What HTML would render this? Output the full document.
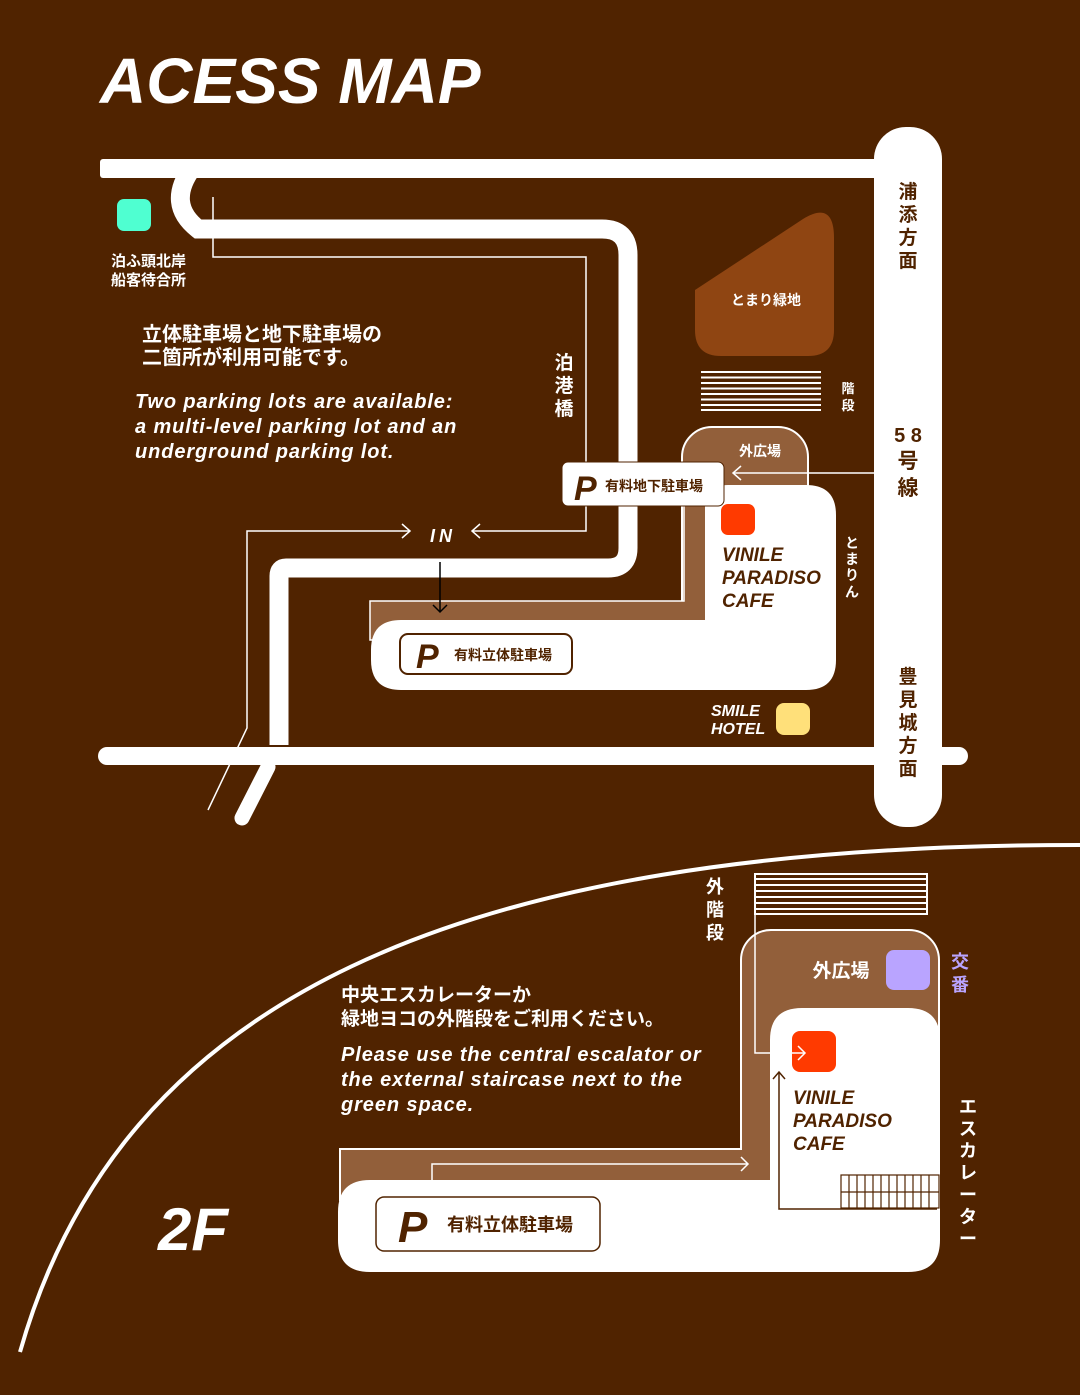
<!DOCTYPE html>
<html><head><meta charset="utf-8"><style>
html,body{margin:0;padding:0;background:#502300;}
svg{display:block}
text{font-family:"Liberation Sans","Noto Sans CJK JP",sans-serif;}
</style></head><body>
<svg width="1080" height="1395" viewBox="0 0 1080 1395" xmlns="http://www.w3.org/2000/svg">
<rect width="1080" height="1395" fill="#502300"/>
<text x="100" y="103" font-size="64" font-weight="bold" font-style="italic" fill="#fff">ACESS MAP</text>

<!-- roads -->
<rect x="100" y="159" width="800" height="19" rx="3" fill="#fff"/>
<rect x="98" y="747" width="870" height="18" rx="9" fill="#fff"/>
<rect x="874" y="127" width="68" height="700" rx="32" fill="#fff"/>
<path d="M192 168 Q166 204 198 229 L602 229 Q628 229 628 255 L628 548 Q628 568 608 568 L286 568 Q279 568 279 576 L279 745" stroke="#fff" stroke-width="19" fill="none"/>
<line x1="268" y1="767" x2="242" y2="818" stroke="#fff" stroke-width="15" stroke-linecap="round"/>

<!-- thin lines -->
<polyline points="213,197 213,257 586,257 586,531 472,531" stroke="#fff" stroke-width="1.5" fill="none"/>
<polyline points="480,524 472,531 480,538" stroke="#fff" stroke-width="1.5" fill="none"/>
<polyline points="208,810 247,728 247,531 410,531" stroke="#fff" stroke-width="1.5" fill="none"/>
<polyline points="402,524 410,531 402,538" stroke="#fff" stroke-width="1.5" fill="none"/>
<text x="430" y="542" font-size="18" font-weight="bold" font-style="italic" fill="#fff" letter-spacing="4">IN</text>

<!-- left labels -->
<rect x="117" y="199" width="34" height="32" rx="7" fill="#4fffd1"/>
<text x="111" y="266" font-size="15" font-weight="bold" fill="#fff">泊ふ頭北岸</text>
<text x="111" y="285" font-size="15" font-weight="bold" fill="#fff">船客待合所</text>
<text x="142" y="341" font-size="20" font-weight="bold" fill="#fff">立体駐車場と地下駐車場の</text>
<text x="142" y="364" font-size="20" font-weight="bold" fill="#fff">二箇所が利用可能です。</text>
<g font-size="20" font-weight="bold" font-style="italic" fill="#fff" letter-spacing="0.9">
<text x="135" y="408">Two parking lots are available:</text>
<text x="135" y="433">a multi-level parking lot and an</text>
<text x="135" y="458">underground parking lot.</text></g>
<g font-size="19" font-weight="bold" fill="#fff" text-anchor="middle">
<text x="564" y="369">泊</text><text x="564" y="392">港</text><text x="564" y="415">橋</text></g>

<!-- green space -->
<path d="M695 290 L803 219 Q834 200 834 238 L834 330 Q834 356 808 356 L721 356 Q695 356 695 330 Z" fill="#8f4512"/>
<text x="766" y="305" font-size="14" font-weight="bold" fill="#fff" text-anchor="middle">とまり緑地</text>
<!-- stairs -->
<g stroke="#fff" stroke-width="2">
<line x1="701" y1="372" x2="821" y2="372"/><line x1="701" y1="377.5" x2="821" y2="377.5"/><line x1="701" y1="383" x2="821" y2="383"/><line x1="701" y1="388.5" x2="821" y2="388.5"/><line x1="701" y1="394" x2="821" y2="394"/><line x1="701" y1="399.5" x2="821" y2="399.5"/><line x1="701" y1="405" x2="821" y2="405"/><line x1="701" y1="410" x2="821" y2="410"/></g>
<text x="848" y="393" font-size="13" font-weight="bold" fill="#fff" text-anchor="middle">階</text>
<text x="848" y="410" font-size="13" font-weight="bold" fill="#fff" text-anchor="middle">段</text>

<!-- lot & building -->
<rect x="682" y="427" width="126" height="220" rx="30" fill="#925f3a" stroke="#fff" stroke-width="2"/>
<path d="M370 640 L370 601 L684 601 L684 505 L706 505 L706 640 Z" fill="#925f3a" stroke="#fff" stroke-width="1.5"/>
<path d="M705 620 L705 508 Q705 485 728 485 L806 485 Q836 485 836 515 L836 660 Q836 690 806 690 L401 690 Q371 690 371 660 L371 650 Q371 620 401 620 Z" fill="#fff"/>
<text x="760" y="456" font-size="14" font-weight="bold" fill="#fff" text-anchor="middle">外広場</text>
<line x1="874" y1="473" x2="733" y2="473" stroke="#fff" stroke-width="1.5"/>
<polyline points="741,466 733,473 741,480" stroke="#fff" stroke-width="1.5" fill="none"/>
<rect x="562" y="462" width="162" height="44" rx="6" fill="#fff" stroke="#502300" stroke-width="1"/>
<text x="574" y="500" font-size="34" font-weight="bold" font-style="italic" fill="#502300">P</text>
<text x="605" y="491" font-size="14" font-weight="bold" fill="#502300">有料地下駐車場</text>
<line x1="440" y1="562" x2="440" y2="612" stroke="#000" stroke-width="1.5"/>
<polyline points="433,605 440,612 447,605" stroke="#000" stroke-width="1.5" fill="none"/>
<rect x="400" y="634" width="172" height="40" rx="8" fill="#fff" stroke="#502300" stroke-width="2"/>
<text x="416" y="668" font-size="34" font-weight="bold" font-style="italic" fill="#502300">P</text>
<text x="454" y="660" font-size="14" font-weight="bold" fill="#502300">有料立体駐車場</text>
<rect x="721" y="504" width="34" height="31" rx="7" fill="#ff3a00"/>
<g font-size="19" font-weight="bold" font-style="italic" fill="#502300">
<text x="722" y="561">VINILE</text><text x="722" y="584">PARADISO</text><text x="722" y="607">CAFE</text></g>
<g font-size="14" font-weight="bold" fill="#fff" text-anchor="middle">
<text x="852" y="548">と</text><text x="852" y="564">ま</text><text x="852" y="580">り</text><text x="852" y="597">ん</text></g>
<text x="711" y="716" font-size="16" font-weight="bold" font-style="italic" fill="#fff">SMILE</text>
<text x="711" y="734" font-size="16" font-weight="bold" font-style="italic" fill="#fff">HOTEL</text>
<rect x="776" y="703" width="34" height="32" rx="8" fill="#ffe07a"/>

<!-- road labels -->
<g font-size="19" font-weight="bold" fill="#502300" text-anchor="middle">
<text x="908" y="198">浦</text><text x="908" y="221">添</text><text x="908" y="244">方</text><text x="908" y="267">面</text>
<text x="908" y="442" font-size="20">5 8</text><text x="908" y="468" font-size="21">号</text><text x="908" y="495" font-size="21">線</text>
<text x="908" y="683">豊</text><text x="908" y="706">見</text><text x="908" y="729">城</text><text x="908" y="752">方</text><text x="908" y="775">面</text></g>

<!-- 2F -->
<path d="M20 1352 C120 1000 450 845 1080 845" stroke="#fff" stroke-width="4" fill="none"/>
<g stroke="#fff" stroke-width="2">
<rect x="755" y="874" width="172" height="40" fill="none"/>
<line x1="755" y1="879" x2="927" y2="879"/><line x1="755" y1="885" x2="927" y2="885"/><line x1="755" y1="891" x2="927" y2="891"/><line x1="755" y1="897" x2="927" y2="897"/><line x1="755" y1="903" x2="927" y2="903"/><line x1="755" y1="909" x2="927" y2="909"/></g>
<g font-size="18" font-weight="bold" fill="#fff" text-anchor="middle">
<text x="715" y="893">外</text><text x="715" y="916">階</text><text x="715" y="939">段</text></g>
<rect x="741" y="930" width="198" height="300" rx="30" fill="#925f3a" stroke="#fff" stroke-width="2"/>
<path d="M340 1200 L340 1149 L742 1149 L742 1100 L772 1100 L772 1200 Z" fill="#925f3a" stroke="#fff" stroke-width="2"/>
<rect x="742" y="1000" width="28" height="160" fill="#925f3a"/>
<path d="M770 1180 L770 1040 Q770 1008 802 1008 L908 1008 Q940 1008 940 1040 L940 1240 Q940 1272 908 1272 L370 1272 Q338 1272 338 1240 L338 1212 Q338 1180 370 1180 Z" fill="#fff"/>
<text x="841" y="977" font-size="19" font-weight="bold" fill="#fff" text-anchor="middle">外広場</text>
<rect x="886" y="950" width="44" height="40" rx="8" fill="#b9a4ff"/>
<text x="960" y="968" font-size="18" font-weight="bold" fill="#b9a4ff" text-anchor="middle">交</text>
<text x="960" y="991" font-size="18" font-weight="bold" fill="#b9a4ff" text-anchor="middle">番</text>
<rect x="792" y="1031" width="44" height="41" rx="8" fill="#ff3a00"/>
<polyline points="755,914 755,1053 805,1053" stroke="#fff" stroke-width="1.5" fill="none"/>
<polyline points="798,1046 805,1053 798,1060" stroke="#fff" stroke-width="1.5" fill="none"/>
<polyline points="432,1180 432,1164 748,1164" stroke="#fff" stroke-width="1.5" fill="none"/>
<polyline points="741,1157 748,1164 741,1171" stroke="#fff" stroke-width="1.5" fill="none"/>
<polyline points="937,1209 779,1209 779,1072" stroke="#502300" stroke-width="1.5" fill="none"/>
<polyline points="773,1079 779,1072 785,1079" stroke="#502300" stroke-width="1.5" fill="none"/>
<g stroke="#502300" stroke-width="1.2" fill="none">
<rect x="841" y="1175" width="98" height="33"/>
<line x1="841" y1="1192" x2="939" y2="1192"/>
<line x1="849" y1="1175" x2="849" y2="1208"/><line x1="857" y1="1175" x2="857" y2="1208"/><line x1="865" y1="1175" x2="865" y2="1208"/><line x1="873" y1="1175" x2="873" y2="1208"/><line x1="881" y1="1175" x2="881" y2="1208"/><line x1="889" y1="1175" x2="889" y2="1208"/><line x1="897" y1="1175" x2="897" y2="1208"/><line x1="905" y1="1175" x2="905" y2="1208"/><line x1="913" y1="1175" x2="913" y2="1208"/><line x1="921" y1="1175" x2="921" y2="1208"/><line x1="929" y1="1175" x2="929" y2="1208"/></g>
<g font-size="19" font-weight="bold" font-style="italic" fill="#502300">
<text x="793" y="1104">VINILE</text><text x="793" y="1127">PARADISO</text><text x="793" y="1150">CAFE</text></g>
<g font-size="18" font-weight="bold" fill="#fff" text-anchor="middle">
<text x="968" y="1113">エ</text><text x="968" y="1135">ス</text><text x="968" y="1157">カ</text><text x="968" y="1179">レ</text><text x="968" y="1201">ー</text><text x="968" y="1223">タ</text><text x="968" y="1245">ー</text></g>
<rect x="376" y="1197" width="224" height="54" rx="8" fill="#fff" stroke="#502300" stroke-width="1.5"/>
<text x="398" y="1242" font-size="44" font-weight="bold" font-style="italic" fill="#502300">P</text>
<text x="447" y="1231" font-size="18" font-weight="bold" fill="#502300">有料立体駐車場</text>
<text x="341" y="1001" font-size="19" font-weight="bold" fill="#fff">中央エスカレーターか</text>
<text x="341" y="1025" font-size="19" font-weight="bold" fill="#fff">緑地ヨコの外階段をご利用ください。</text>
<g font-size="20" font-weight="bold" font-style="italic" fill="#fff" letter-spacing="0.9">
<text x="341" y="1061">Please use the central escalator or</text>
<text x="341" y="1086">the external staircase next to the</text>
<text x="341" y="1111">green space.</text></g>
<text x="158" y="1250" font-size="60" font-weight="bold" font-style="italic" fill="#fff">2F</text>
</svg>
</body></html>
